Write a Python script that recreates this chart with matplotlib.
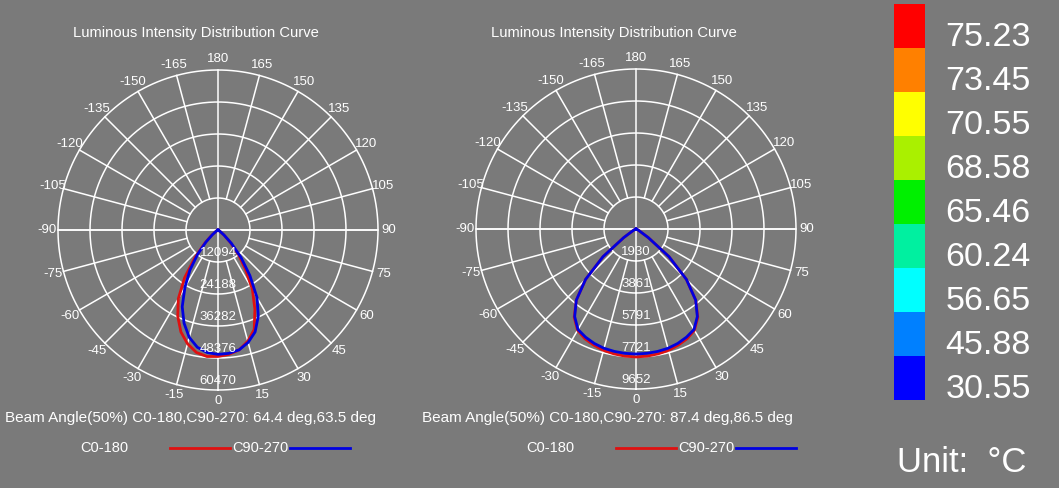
import numpy as np
import matplotlib
matplotlib.use("Agg")
import matplotlib.pyplot as plt

plt.rcParams['font.family'] = ['Liberation Sans', 'DejaVu Sans']
BG = "#7a7a7a"
angles = list(range(-90, 91, 5))
left_c0 = [0, 0, 50, 80, 100, 200, 400, 1100, 3200, 7200, 13500, 22000, 30000, 36000, 41000, 44500, 47000, 48000, 47800,
           47200, 46000, 43500, 40000, 33000, 26000, 18000, 12000, 6500, 2800, 900, 300, 150, 50, 20, 0, 0, 0]
left_c90 = [0, 0, 50, 80, 100, 200, 300, 1000, 2800, 6500, 12000, 18500, 25000, 32000, 37500, 42000, 45000, 46500, 47000,
            46800, 46000, 44000, 41000, 36000, 29500, 21000, 13500, 7200, 3000, 1000, 300, 150, 50, 20, 0, 0, 0]
right_c0 = [0, 0, 0, 20, 50, 120, 250, 900, 2600, 4300, 5600, 6500, 7050, 7300, 7450, 7580, 7650, 7700, 7720,
            7700, 7650, 7580, 7450, 7300, 7050, 6500, 5600, 4300, 2600, 900, 250, 120, 50, 20, 0, 0, 0]
right_c90 = [0, 0, 0, 20, 50, 120, 250, 900, 2600, 4300, 5600, 6450, 7000, 7200, 7350, 7450, 7500, 7530, 7540,
             7530, 7500, 7450, 7350, 7200, 7000, 6450, 5600, 4300, 2600, 900, 250, 120, 50, 20, 0, 0, 0]
left_rings = [12094, 24188, 36282, 48376, 60470]
right_rings = [1930, 3861, 5791, 7721, 9652]
left_beam = "Beam Angle(50%) C0-180,C90-270: 64.4 deg,63.5 deg"
right_beam = "Beam Angle(50%) C0-180,C90-270: 87.4 deg,86.5 deg"
legend_names = ["C0-180", "C90-270"]
cb_labels = ["75.23", "73.45", "70.55", "68.58", "65.46", "60.24", "56.65", "45.88", "30.55"]
cb_colors = ["#ff0000", "#ff8000", "#ffff00", "#aaf000", "#00f000", "#00f0a0", "#00ffff", "#0080ff", "#0000ff"]

W, H = 1059, 488
fig = plt.figure(figsize=(W / 100, H / 100), dpi=100, facecolor=BG)
bg = fig.add_axes([0, 0, 1, 1])
bg.set_xlim(0, W); bg.set_ylim(H, 0); bg.axis("off")
bg.set_facecolor(BG)

def polar(cx, cy, rings, c0, c90, title, beam, bx, lx):
    R = 160
    ax = fig.add_axes([(cx - R) / W, (H - cy - R) / H, 2 * R / W, 2 * R / H], projection="polar")
    ax.set_facecolor("none")
    ax.set_theta_zero_location("S")
    ax.set_theta_direction(1)
    rmax = rings[-1]
    ax.set_ylim(0, rmax)
    ax.grid(False); ax.set_xticks([]); ax.set_yticks([])
    ax.spines["polar"].set_visible(False)
    t = np.linspace(0, 2 * np.pi, 400)
    for r in rings:
        ax.plot(t, np.full_like(t, r), color="white", lw=1.1, clip_on=False)
    for a in range(-165, 181, 15):
        th = np.deg2rad(a)
        r0 = 0 if a % 90 == 0 else rings[0]
        ax.plot([th, th], [r0, rmax], color="white", lw=1.1, clip_on=False)
        ax.text(th, rmax * 1.07, str(a), color="white", fontsize=9.5, ha="center", va="center")
    ax.plot([np.pi / 2, np.pi / 2], [0, rmax], color="white", lw=1.1)
    ax.plot([-np.pi / 2, -np.pi / 2], [0, rmax], color="white", lw=1.1)
    th = np.deg2rad(angles)
    ax.plot(th, c0, color="#e01010", lw=2)
    ax.plot(th, c90, color="#0000e0", lw=2)
    for r in rings:
        ax.text(0, r - rmax * 0.055, str(r), color="white", fontsize=9.5, ha="center", va="center")
    bg.text(cx - 22, 33, title, color="white", fontsize=10.6, ha="center", va="center")
    bg.text(bx, 418, beam, color="white", fontsize=11, ha="left", va="center")
    bg.text(lx, 448, legend_names[0], color="white", fontsize=10.5, ha="left", va="center")
    bg.plot([lx + 90, lx + 150], [448, 448], color="#e01010", lw=2)
    bg.text(lx + 152, 448, legend_names[1], color="white", fontsize=10.5, ha="left", va="center")
    bg.plot([lx + 210, lx + 270], [448, 448], color="#0000e0", lw=2)

polar(218, 230, left_rings, left_c0, left_c90, "Luminous Intensity Distribution Curve", left_beam, 5, 80)
polar(636, 229, right_rings, right_c0, right_c90, "Luminous Intensity Distribution Curve", right_beam, 422, 526)

ys = np.arange(len(cb_labels)) * 44 + 4
bg.bar(np.full(len(ys), 909.5), np.full(len(ys), 44), width=31, bottom=ys, color=cb_colors, align="center")
for y, lab in zip(ys, cb_labels):
    bg.text(988, y + 34, lab, color="white", fontsize=24.5, ha="center", va="center")
bg.text(962, 463, "Unit:  °C", color="white", fontsize=25, ha="center", va="center")

fig.savefig("out.png", dpi=100, facecolor=BG)
